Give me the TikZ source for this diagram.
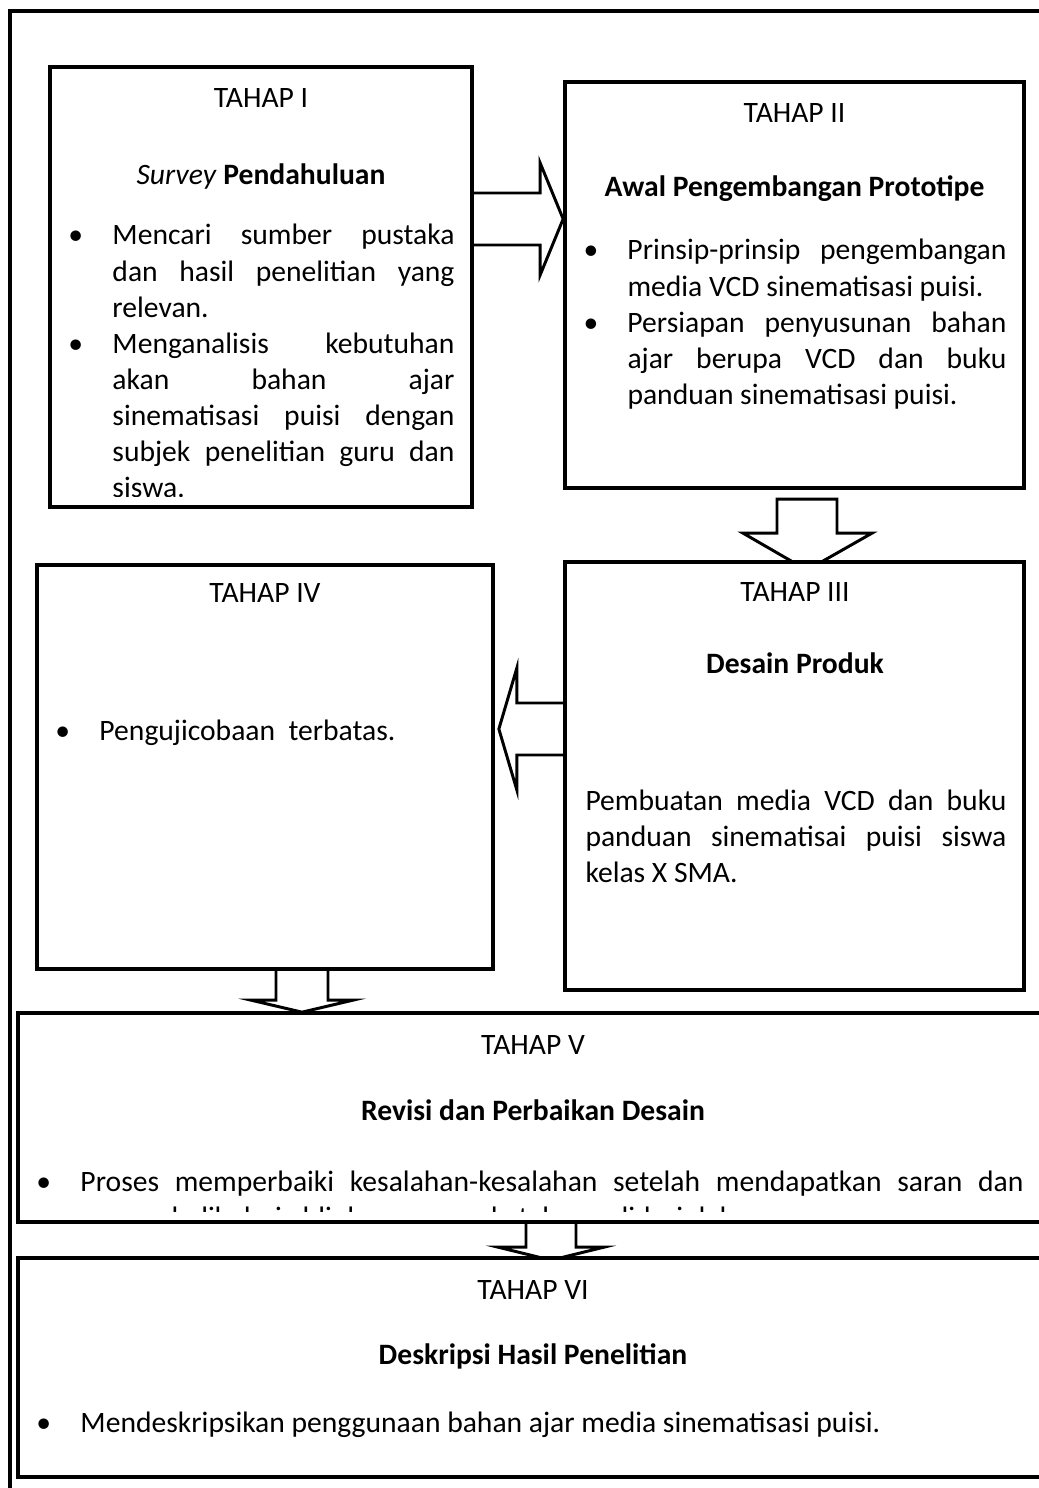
\documentclass[tikz,border=0pt]{standalone}
\usepackage{fontspec}
\setmainfont{Carlito}
\usetikzlibrary{calc,positioning,backgrounds}

\newlength{\px}
\setlength{\px}{0.4054pt}
\newlength{\lebar}
\newcommand{\jl}[1]{\hbox to \lebar{\spaceskip=0.226em plus 1fil\relax #1}}
\newcommand{\kiri}[1]{\hbox{\spaceskip=0.226em\relax #1}}
\newcommand{\bul}{\llap{\makebox[44\px][l]{\textbullet}}}

\begin{document}
\begin{tikzpicture}
  [
    x=\px, y=-\px,
    every node/.style={font=\fontsize{12}{14.64}\selectfont, inner sep=0pt},
    tahap/.style={draw, line width=1.5pt, fill=white},
    panah/.style={draw, line width=1.2pt, fill=white, line join=miter},
    judul/.style={anchor=base},
    isi/.style={anchor=base west, text width=#1\px,
      execute at begin node={\setlength{\lebar}{#1\px}}}
  ]
  \useasboundingbox (0,0) rectangle (1038,1488);
  \draw[line width=2pt] (10,1500) -- (10,11) -- (1050,11);

  \node[tahap, minimum width=422\px, minimum height=440\px] (tahap1) at (261,287) {};
  \node[tahap, minimum width=459\px, minimum height=406\px] (tahap2) at (794.5,285) {};
  \node[tahap, minimum width=459\px, minimum height=428\px] (tahap3) at (794.5,776) {};
  \node[tahap, minimum width=456\px, minimum height=404\px] (tahap4) at (265,767) {};
  \node[tahap, minimum width=1030\px, minimum height=209\px] (tahap5) at (533,1117.5) {};
  \node[tahap, minimum width=1030\px, minimum height=219\px] (tahap6) at (533,1367.5) {};

  \begin{scope}[on background layer]
    \draw[panah] ($(tahap2.west)+(0,-66)$) -- ++(-23,-56) -- ++(0,30) -- ++(-70,0)
      -- ++(0,52) -- ++(70,0) -- ++(0,30) -- cycle;
    \draw[panah] ($(tahap3.north)+(12.5,10)$) -- ++(-64,-37) -- ++(34,0) -- ++(0,-34)
      -- ++(60,0) -- ++(0,34) -- ++(35,0) -- cycle;
    \draw[panah] ($(tahap4.east)+(4,-38)$) -- ++(18,-61) -- ++(0,35) -- ++(50,0)
      -- ++(0,52) -- ++(-50,0) -- ++(0,35) -- cycle;
    \draw[panah] ($(tahap5.north)+(-231,1)$) -- ++(-51,-12) -- ++(25,0) -- ++(0,-37)
      -- ++(52,0) -- ++(0,37) -- ++(25,0) -- cycle;
    \draw[panah] ($(tahap6.north)+(18,4)$) -- ++(-53,-13) -- ++(28,0) -- ++(0,-27)
      -- ++(50,0) -- ++(0,27) -- ++(28,0) -- cycle;
  \end{scope}

  \node[judul] (label1) at (261,108) {\kiri{TAHAP I}};
  \node[judul] (judul1) at (261,185) {\kiri{\textit{Survey} \textbf{Pendahuluan}}};
  \begin{scope}
    \clip (tahap1.north west) rectangle ($(tahap1.south east)+(0,-12)$);
    \node[isi=342] (isi1) at (112,245) {%
      \jl{\bul Mencari sumber pustaka}
      \jl{dan hasil penelitian yang}
      \kiri{relevan.}
      \jl{\bul Menganalisis kebutuhan}
      \jl{akan bahan ajar}
      \jl{sinematisasi puisi dengan}
      \jl{subjek penelitian guru dan}
      \kiri{siswa.}};
  \end{scope}

  \node[judul] (label2) at (794.5,123) {\kiri{TAHAP II}};
  \node[judul] (judul2) at (794.5,197) {\kiri{\textbf{Awal Pengembangan Prototipe}}};
  \node[isi=379] (isi2) at (627,260) {%
    \jl{\bul Prinsip-prinsip pengembangan}
    \kiri{media VCD sinematisasi puisi.}
    \jl{\bul Persiapan penyusunan bahan}
    \jl{ajar berupa VCD dan buku}
    \kiri{panduan sinematisasi puisi.}};

  \node[judul] (label3) at (795,602) {\kiri{TAHAP III}};
  \node[judul] (judul3) at (795,673) {\kiri{\textbf{Desain Produk}}};
  \node[isi=421] (isi3) at (585,810) {%
    \jl{Pembuatan media VCD dan buku}
    \jl{panduan sinematisai puisi siswa}
    \kiri{kelas X SMA.}};

  \node[judul] (label4) at (265,603) {\kiri{TAHAP IV}};
  \node[isi=376] (isi4) at (99,740) {\kiri{\bul Pengujicobaan\ \ terbatas.}};

  \node[judul] (label5) at (533,1054) {\kiri{TAHAP V}};
  \node[judul] (judul5) at (533,1120) {\kiri{\textbf{Revisi dan Perbaikan Desain}}};
  \begin{scope}
    \clip (tahap5.north west) rectangle ($(tahap5.south east)+(0,-12)$);
    \node[isi=943] (isi5) at (80,1191) {%
      \jl{\bul Proses memperbaiki kesalahan-kesalahan setelah mendapatkan saran dan}
      \kiri{umpan balik dari ahli dan guru pada tahap validasi dalam}};
  \end{scope}

  \node[judul] (label6) at (533,1299) {\kiri{TAHAP VI}};
  \node[judul] (judul6) at (533,1364) {\kiri{\textbf{Deskripsi Hasil Penelitian}}};
  \node[isi=943] (isi6) at (80,1432) {%
    \kiri{\bul Mendeskripsikan penggunaan bahan ajar media sinematisasi puisi.}};
\end{tikzpicture}
\end{document}
